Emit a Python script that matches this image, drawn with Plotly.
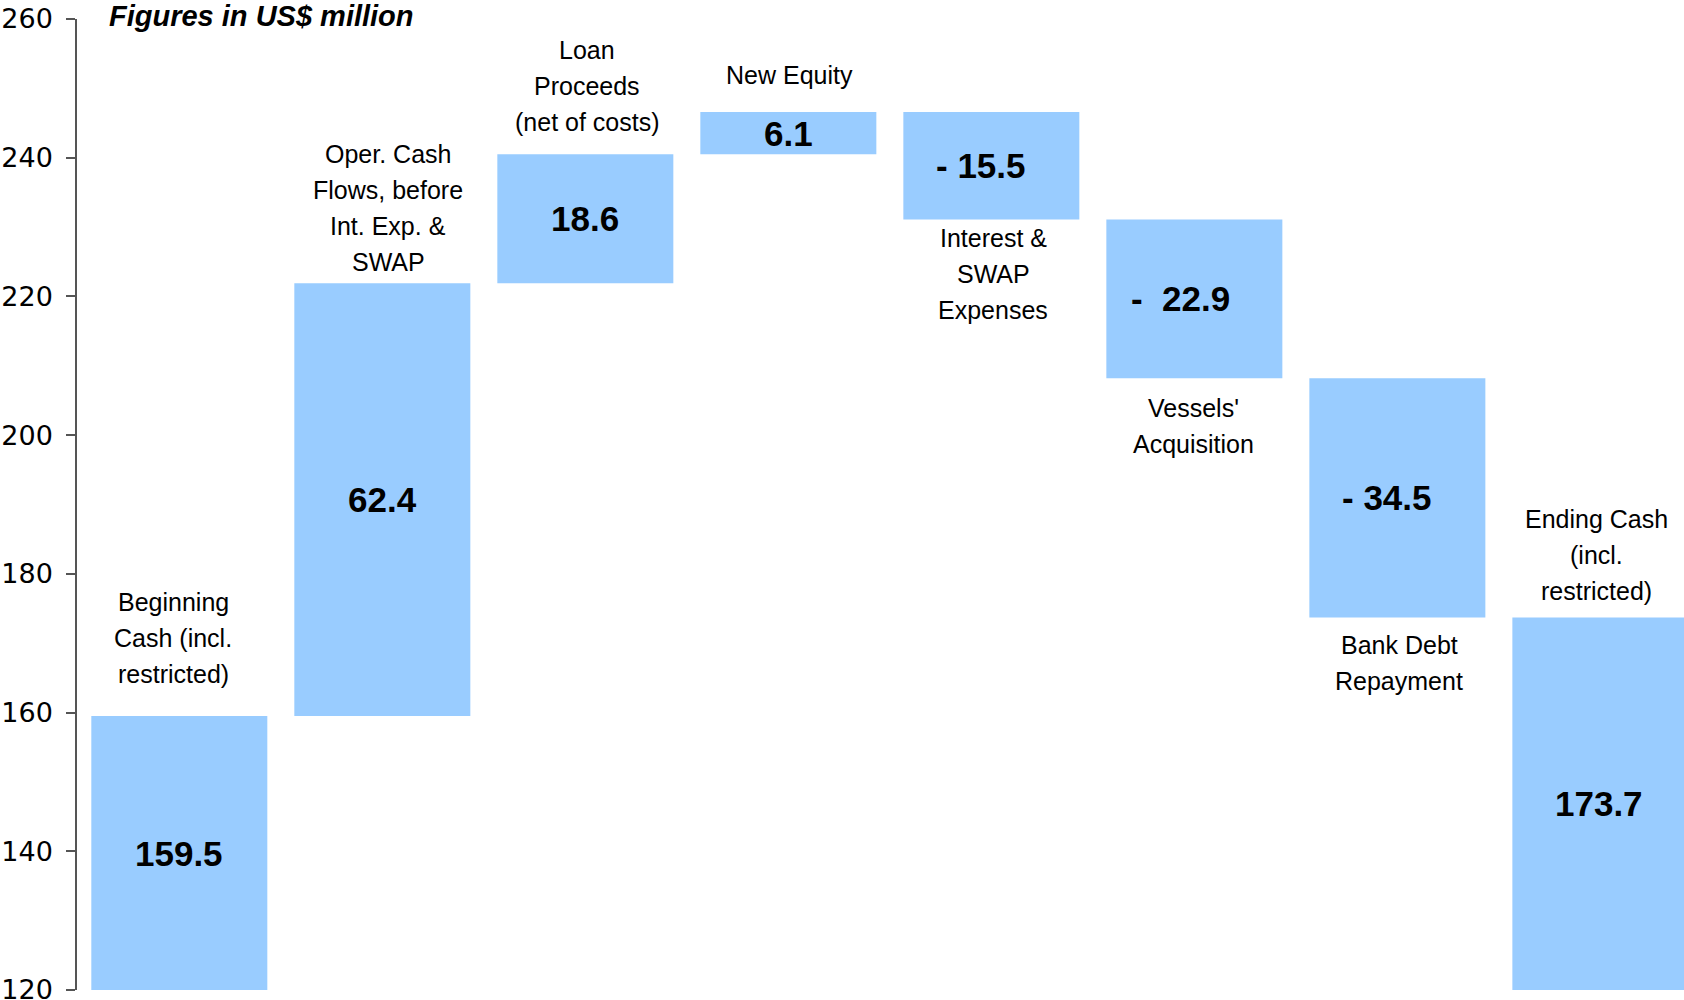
import plotly.graph_objects as go

# ---- data ----
categories = [
    "Beginning<br>Cash (incl.<br>restricted)",
    "Oper. Cash<br>Flows, before<br>Int. Exp. &<br>SWAP",
    "Loan<br>Proceeds<br>(net of costs)",
    "New Equity",
    "Interest &<br>SWAP<br>Expenses",
    "Vessels'<br>Acquisition",
    "Bank Debt<br>Repayment",
    "Ending Cash<br>(incl.<br>restricted)",
]
values = [159.5, 62.4, 18.6, 6.1, -15.5, -22.9, -34.5, 173.7]
measures = ["absolute", "relative", "relative", "relative",
            "relative", "relative", "relative", "total"]
value_labels = ["159.5", "62.4", "18.6", "6.1", "- 15.5", "-  22.9", "- 34.5", "173.7"]
y_ticks = [120, 140, 160, 180, 200, 220, 240, 260]

# ---- style ----
BAR = "#99CCFF"
LABEL_FONT = "Liberation Sans, Arial, sans-serif"
LABEL_SIZE = 25
LINE_GAP = 36          # px between label lines
YMIN, YMAX = 120, 260

fig = go.Figure()
fig.add_trace(go.Waterfall(
    x=list(range(len(categories))),
    y=values,
    measure=measures,
    increasing=dict(marker=dict(color=BAR)),
    decreasing=dict(marker=dict(color=BAR)),
    totals=dict(marker=dict(color=BAR)),
    connector=dict(visible=False),
    textposition="none",
    hoverinfo="skip",
))

# compute bar extents
starts, ends = [], []
run = 0.0
for v, m in zip(values, measures):
    if m == "absolute":
        s, e = 0.0, v
    elif m == "total":
        s, e = 0.0, run
    else:
        s, e = run, run + v
    run = e
    starts.append(s)
    ends.append(e)

# label placement: above (+1) or below (-1) the bar; distance of nearest baseline (px)
label_side = [1, 1, 1, 1, -1, -1, -1, 1]
label_gap = [33, 13, 24, 28, 27, 38, 36, 18]
label_xshift = [-6, 6, 2, 1, 2, -1, 2, -4]
value_xshift = [0, 0, 0, 0, -10, -14, -10, -1]
center_off = 0.3465 * LABEL_SIZE   # baseline -> box centre

for i, cat in enumerate(categories):
    lo, hi = min(starts[i], ends[i]), max(starts[i], ends[i])
    vis_lo = max(lo, YMIN)
    mid = (vis_lo + hi) / 2
    fig.add_annotation(
        x=i, y=mid, text=f"<b>{value_labels[i]}</b>", showarrow=False,
        xanchor="center", yanchor="middle", xshift=value_xshift[i],
        font=dict(family=LABEL_FONT, size=35, color="black"),
    )
    lines = cat.split("<br>")
    n = len(lines)
    for j, line in enumerate(lines):
        if label_side[i] > 0:
            k = n - 1 - j
            ys = label_gap[i] + LINE_GAP * k + center_off
            yref_val = hi
        else:
            ys = -(label_gap[i] + LINE_GAP * j - center_off)
            yref_val = lo
        fig.add_annotation(
            x=i, y=yref_val, text=line, showarrow=False, xanchor="center",
            yanchor="middle", yshift=ys, xshift=label_xshift[i],
            font=dict(family=LABEL_FONT, size=LABEL_SIZE, color="black"),
        )

fig.add_annotation(
    xref="paper", yref="paper", x=0.0187, y=1, xanchor="left", yanchor="middle",
    yshift=3, showarrow=False, text="<b><i>Figures in US$ million</i></b>",
    font=dict(family="Liberation Sans, Arial, sans-serif", size=29, color="black"),
)

fig.update_layout(
    width=1684, height=1000,
    margin=dict(l=77, r=0, t=19, b=10, autoexpand=False),
    paper_bgcolor="white", plot_bgcolor="white",
    showlegend=False,
    waterfallgap=0.133,
    xaxis=dict(range=[-0.504, 7.412], showticklabels=False, showline=False,
               showgrid=False, zeroline=False, ticks="", automargin=False),
    yaxis=dict(range=[YMIN, YMAX], tickvals=y_ticks, showgrid=False, zeroline=False,
               showline=True, linecolor="#555555", linewidth=1.5, automargin=False,
               ticks="outside", ticklen=9, tickcolor="#555555", tickwidth=1.5,
               ticklabelstandoff=8, ticklabeloverflow="allow",
               tickfont=dict(family="DejaVu Sans, sans-serif", size=27, color="black")),
)

fig.write_html("out.html")
